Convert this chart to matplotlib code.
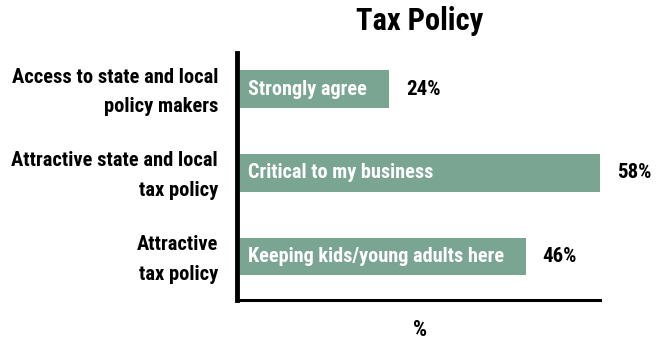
import matplotlib
matplotlib.use("Agg")
import matplotlib.pyplot as plt
from matplotlib import transforms

plt.rcParams['font.family'] = ['Roboto Condensed', 'DejaVu Sans']
plt.rcParams['font.weight'] = 'bold'

categories = [
    "Access to state and local\npolicy makers",
    "Attractive state and local\ntax policy",
    "Attractive\ntax policy",
]
bar_labels = ["Strongly agree", "Critical to my business", "Keeping kids/young adults here"]
values = [24, 58, 46]

BAR_COLOR = "#7aa593"
DPI = 100

fig = plt.figure(figsize=(6.57, 3.43), dpi=DPI)
ax = fig.add_axes([240 / 657, 43 / 343, 360 / 657, 247 / 343])

ypos = list(range(len(values)))
ax.barh(ypos, values, height=0.45, color=BAR_COLOR, zorder=2)
ax.set_xlim(0, 58)
ax.set_ylim(2.52, -0.43)
ax.set_yticks([])
ax.set_xticks([])

for side in ("top", "right"):
    ax.spines[side].set_visible(False)
ax.spines["left"].set_linewidth(3.5)
ax.spines["left"].set_position(("outward", 2))
ax.spines["bottom"].set_linewidth(2.2)

# Category labels to the left of the axis, right-aligned
label_trans = transforms.offset_copy(
    transforms.blended_transform_factory(ax.transAxes, ax.transData),
    fig=fig, x=-22, y=-3, units='dots')
for y, cat in zip(ypos, categories):
    ax.text(0, y, cat, transform=label_trans, fontsize=14.8, fontweight='bold',
            ha='right', va='center', multialignment='right', linespacing=1.7,
            clip_on=False)

inside = transforms.offset_copy(ax.transData, fig=fig, x=8, y=0, units='dots')
outside = transforms.offset_copy(ax.transData, fig=fig, x=17, y=0, units='dots')
for y, v, lab in zip(ypos, values, bar_labels):
    ax.text(0, y, lab, transform=inside, color="white", fontsize=14.6,
            fontweight='bold', ha='left', va='center', zorder=3)
    ax.text(v, y, f"{v}%", transform=outside, color="black", fontsize=15,
            fontweight='bold', ha='left', va='center', zorder=3, clip_on=False)

fig.text(420 / 657, 1 - 21 / 343, "Tax Policy", fontsize=22, fontweight='bold',
         ha='center', va='center')
fig.text(420 / 657, 1 - 330 / 343, "%", fontsize=16, fontweight='bold',
         ha='center', va='center')

fig.savefig("out.png", dpi=DPI)
